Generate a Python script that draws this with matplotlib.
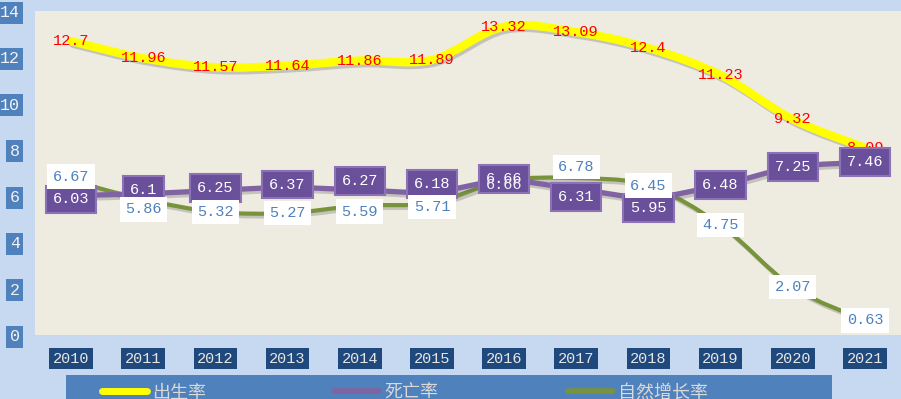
import numpy as np
import matplotlib
matplotlib.use("Agg")
import matplotlib.pyplot as plt
from matplotlib.path import Path
from matplotlib.patches import PathPatch, Rectangle
from matplotlib.lines import Line2D
import matplotlib.patheffects as pe

years = ["2010", "2011", "2012", "2013", "2014", "2015",
         "2016", "2017", "2018", "2019", "2020", "2021"]
birth = [12.7, 11.96, 11.57, 11.64, 11.86, 11.89, 13.32, 13.09, 12.4, 11.23, 9.32, 8.09]
death = [6.03, 6.1, 6.25, 6.37, 6.27, 6.18, 6.66, 6.31, 5.95, 6.48, 7.25, 7.46]
growth = [6.67, 5.86, 5.32, 5.27, 5.59, 5.71, 6.66, 6.78, 6.45, 4.75, 2.07, 0.63]
series_names = ["出生率", "死亡率", "自然增长率"]

YELLOW = "#FFFF00"
PURPLE = "#8064A2"
OLIVE = "#77933C"
NUM_FONT = "Liberation Mono"


def smooth_path(xs, ys):
    # excel-like smoothed line: cubic bezier through the points
    pts = np.column_stack([xs, ys]).astype(float)
    ext = np.vstack([pts[0], pts, pts[-1]])
    verts = [pts[0]]
    codes = [Path.MOVETO]
    for i in range(len(pts) - 1):
        p0, p1, p2, p3 = ext[i], ext[i + 1], ext[i + 2], ext[i + 3]
        c1 = p1 + (p2 - p0) / 6
        c2 = p2 - (p3 - p1) / 6
        verts += [c1, c2, p2]
        codes += [Path.CURVE4] * 3
    return Path(verts, codes)


fig = plt.figure(figsize=(9.01, 3.99), dpi=100, facecolor="#C6D9F1")
ax = fig.add_axes([35 / 901, 1 - 335 / 399, 1 - 35 / 901, 324 / 399])
ax.set_facecolor("#EEECE1")
x = np.arange(len(years))

shadow = [pe.SimpleLineShadow(offset=(1.5, -2), shadow_color="#666666", alpha=0.3), pe.Normal()]
for vals, col, lw, z in [(growth, OLIVE, 3, 2), (death, PURPLE, 3.8, 3), (birth, YELLOW, 6, 4)]:
    patch = PathPatch(smooth_path(x, vals), fill=False, edgecolor=col, lw=lw,
                      capstyle="round", joinstyle="round", zorder=z)
    patch.set_path_effects(shadow)
    ax.add_patch(patch)

# label nudges in pixels (layout only, positive = up)
death_dy = [-4, 4, 2, 3, 9, 8, 2, -8, -11, 0, 0, 0]
growth_dy = [4, -10, 0, 0, -6, -4, -4, 11, 0, 0, 0, 0]

for i, v in enumerate(birth):
    ax.annotate(f"{v:g}", (x[i], v), ha="center", va="center", color="red",
                fontsize=11, family=NUM_FONT, zorder=5)
for i, v in enumerate(death):
    ax.annotate(f"{v:g}", (x[i], v), xytext=(0, death_dy[i]), textcoords="offset pixels",
                ha="center", va="center", color="white", fontsize=11, family=NUM_FONT,
                bbox=dict(boxstyle="square,pad=0.45", facecolor="#6A4F9A",
                          edgecolor="#8D72B5", linewidth=1.5),
                zorder=6)
for i, v in enumerate(growth):
    if i == 6:
        # hidden under the purple box in the original, only its text shows through
        ax.annotate(f"{v:g}", (x[i], v), xytext=(0, growth_dy[i]), textcoords="offset pixels",
                    ha="center", va="center", color="#F0F0F0", fontsize=11, family=NUM_FONT,
                    zorder=7)
        continue
    ax.annotate(f"{v:g}", (x[i], v), xytext=(0, growth_dy[i]), textcoords="offset pixels",
                ha="center", va="center", color="#4F81BD", fontsize=11, family=NUM_FONT,
                bbox=dict(boxstyle="square,pad=0.35", facecolor="white", edgecolor="none"),
                zorder=7)

ax.set_xlim(-0.5, len(years) - 0.5)
ax.set_ylim(0, 14)
ax.set_xticks(x)
ax.set_xticklabels(years)
ax.set_yticks(range(0, 15, 2))
for s in ax.spines.values():
    s.set_visible(False)
ax.tick_params(axis="both", length=0)
ax.tick_params(axis="x", pad=12)
ax.tick_params(axis="y", pad=11)
for lbl in ax.get_xticklabels():
    lbl.set_family(NUM_FONT)
    lbl.set_fontsize(11)
    lbl.set_color("#E6E6E6")
    lbl.set_bbox(dict(facecolor="#1F497D", edgecolor="none", pad=2.5))
for lbl in ax.get_yticklabels():
    lbl.set_family(NUM_FONT)
    lbl.set_fontsize(12)
    lbl.set_color("#F2F2F2")
    lbl.set_bbox(dict(facecolor="#4F81BD", edgecolor="none", pad=2.5))

# legend band at the bottom
fig.patches.append(Rectangle((66 / 901, 0), 766 / 901, 24 / 399, transform=fig.transFigure,
                             facecolor="#4F81BD", edgecolor="none", zorder=0))
legend_x = [102, 334, 568]
for name, col, lx, lw in zip(series_names, [YELLOW, PURPLE, OLIVE], legend_x, [5, 4, 4]):
    fig.lines.append(Line2D([lx / 901, (lx + 45) / 901], [1 - 391 / 399] * 2,
                            transform=fig.transFigure, color=col, lw=lw,
                            solid_capstyle="round"))
    fig.text((lx + 50) / 901, 1 - 393 / 399, name, color="#D9D9D9", fontsize=13,
             family=["Noto Sans CJK SC", "DejaVu Sans"], va="center", ha="left")

fig.savefig("out.png", dpi=100, facecolor=fig.get_facecolor())
